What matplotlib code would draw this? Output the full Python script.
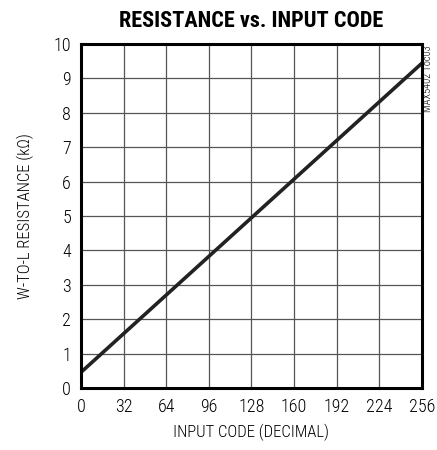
import matplotlib
matplotlib.use("Agg")
import matplotlib.pyplot as plt

codes = [0, 64, 128, 192, 256]
resistance = [0.45, 2.7, 4.95, 7.2, 9.45]
xticks = [0, 32, 64, 96, 128, 160, 192, 224, 256]
yticks = list(range(0, 11))

plt.rcParams['font.family'] = ['Roboto Condensed', 'DejaVu Sans']
plt.rcParams['font.weight'] = 300

fig = plt.figure(figsize=(4.37, 4.5), dpi=100)
ax = fig.add_axes([0.185, 0.138, 0.781, 0.764])
ax.plot(codes, resistance, color='#222222', lw=2.6, solid_capstyle='butt')
ax.set_xlim(0, 256)
ax.set_ylim(0, 10)
ax.set_xticks(xticks)
ax.set_yticks(yticks)
ax.grid(True, color='#555555', lw=0.9)
for s in ax.spines.values():
    s.set_linewidth(2.2)
    s.set_color('black')
ax.tick_params(length=0, labelsize=13, pad=7)
for lab in ax.get_xticklabels() + ax.get_yticklabels():
    lab.set_fontweight(300)
ax.set_xlabel('INPUT CODE (DECIMAL)', fontsize=12, labelpad=6, fontweight=300)
ax.set_ylabel('W-TO-L RESISTANCE (kΩ)', fontsize=12, labelpad=14, fontweight=300)
ax.set_title('RESISTANCE vs. INPUT CODE', fontsize=16, fontweight='bold', pad=12)
fig.text(0.979, 0.90, 'MAX5402 Toc03', rotation=90, fontsize=7.5, va='top', ha='center', fontweight=300)
fig.savefig('out.png', dpi=100)
